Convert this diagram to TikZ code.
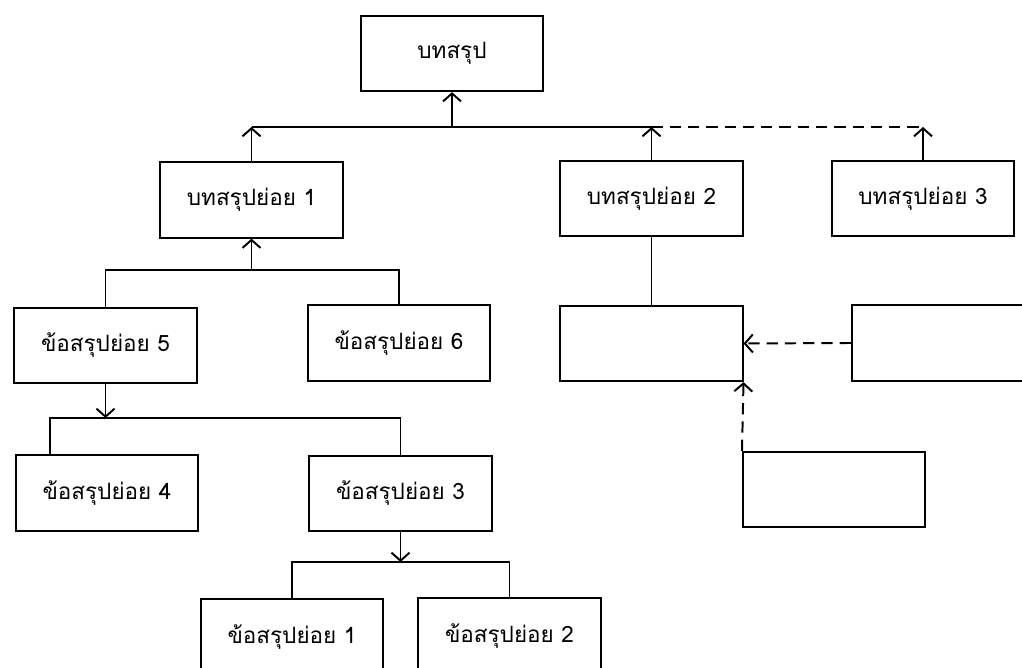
\documentclass[tikz,border=0pt]{standalone}
\usepackage{fontspec}
\newfontfamily\thaifont[Script=Thai]{Loma}
\usetikzlibrary{arrows.meta,calc}

\begin{document}
\begin{tikzpicture}[x=0.025cm,y=-0.025cm,line width=1.4pt,
    >={Straight Barb[length=0.2cm,width=0.45cm]},
    box/.style={draw,minimum width=4.55cm,minimum height=1.88cm,inner sep=0pt,
      font=\thaifont\fontsize{16}{19}\selectfont},
    link/.style={dash pattern=on 8pt off 5pt}]
    % page = 1022 x 668 px, y runs downwards
    \useasboundingbox (0,0) rectangle (1022,668);
    \clip (0,0) rectangle (1022,668);
    % Boxes
    \node[box] (top) at (452,53.5) {บทสรุป};
    \node[box] (sub1) at (251.5,200) {บทสรุปย่อย 1};
    \node[box] (sub2) at (651.5,198.5) {บทสรุปย่อย 2};
    \node[box] (sub3) at (923,198.5) {บทสรุปย่อย 3};
    \node[box] (c5) at (105.5,345.5) {ข้อสรุปย่อย 5};
    \node[box] (c6) at (399,343) {ข้อสรุปย่อย 6};
    \node[box] (e1) at (651.5,343.5) {};   % empty, below sub2
    \node[box] (e2) at (943,343) {};       % empty, runs off the right edge
    \node[box] (e3) at (834,489.5) {};     % empty, lower right
    \node[box] (c4) at (107,493) {ข้อสรุปย่อย 4};
    \node[box] (c3) at (400.5,493.5) {ข้อสรุปย่อย 3};
    \node[box] (c1) at (292,637) {ข้อสรุปย่อย 1};
    \node[box] (c2) at (509.5,636) {ข้อสรุปย่อย 2};
    % Heights of the horizontal bars
    \coordinate (bus0) at (0,127);
    \coordinate (bus1) at (0,270);
    \coordinate (bus2) at (0,418);
    \coordinate (bus3) at (0,562);
    \coordinate (c4in) at ($(c4.north)+(-57,0)$);
    % Top bar (solid part, then dashed to sub3)
    \draw (sub1.north |- bus0) -- (sub2.north |- bus0);
    \draw[link] (sub2.north |- bus0) -- (sub3.north |- bus0);
    \draw[->] (top.south |- bus0) -- (top.south);
    \draw[->] (sub1.north) -- (sub1.north |- bus0);
    \draw[->] (sub2.north) -- (sub2.north |- bus0);
    \draw[->] (sub3.north) -- (sub3.north |- bus0);
    % c5, c6 up to sub1
    \draw (c5.north) -- (c5.north |- bus1) -- (c6.north |- bus1) -- (c6.north);
    \draw[->] (sub1.south |- bus1) -- (sub1.south);
    % c5 down to c4, c3
    \draw (c4in) -- (c4in |- bus2) -- (c3.north |- bus2) -- (c3.north);
    \draw[->] (c5.south) -- (c5.south |- bus2);
    % c3 down to c1, c2
    \draw (c1.north) -- (c1.north |- bus3) -- (c2.north |- bus3) -- (c2.north);
    \draw[->] (c3.south) -- (c3.south |- bus3);
    % Right-hand group
    \draw (sub2.south) -- (e1.north);
    \draw[link,->] (e2.west) -- (e1.east);
    \draw[link,->] (e3.north west) -- (e1.south east);
\end{tikzpicture}
\end{document}
